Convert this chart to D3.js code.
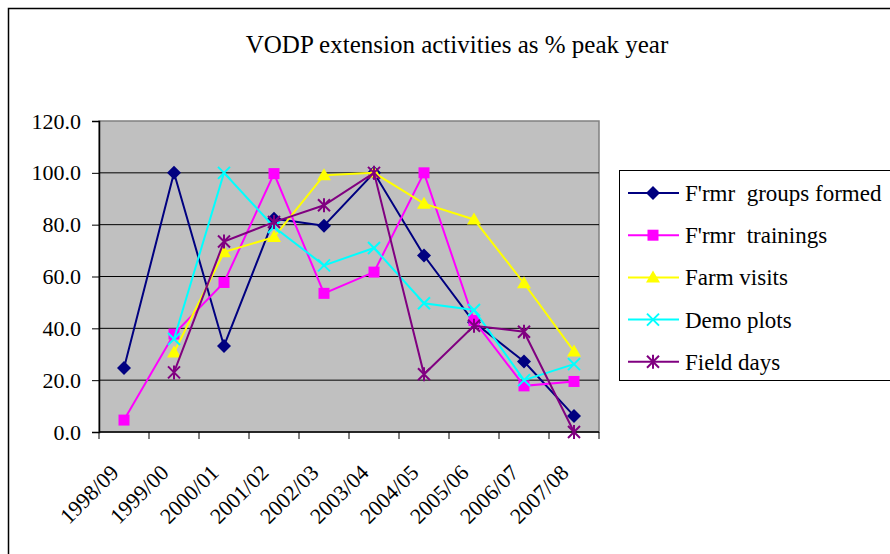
<!DOCTYPE html>
<html>
<head>
<meta charset="utf-8">
<script src="https://cdn.jsdelivr.net/npm/d3@7"></script>
<style>
  body { margin: 0; background: #fff; }
  svg text { font-family: "Liberation Serif", "Times New Roman", serif; fill: #000; }
</style>
</head>
<body>
<div id="chart"></div>
<script>
// data
var years = ["1998/09", "1999/00", "2000/01", "2001/02", "2002/03", "2003/04", "2004/05", "2005/06", "2006/07", "2007/08"];
var groupsFormed = [24.7, 100, 33.2, 82.3, 79.6, 100, 68.1, 42.3, 27.2, 6.2];
var trainings    = [4.6, 37.8, 57.7, 99.7, 53.5, 61.7, 100, 43.0, 17.8, 19.5];
var farmVisits   = [null, 30.7, 69.4, 75.2, 99.1, 100, 88.1, 82.0, 57.4, 31.1];
var demoPlots    = [null, 35.9, 100, 79.1, 64.3, 71.0, 49.7, 47.1, 20.0, 26.2];
var fieldDays    = [null, 23.0, 73.5, 81.0, 87.5, 100, 22.3, 41.0, 38.7, 0];
var yTicks = [0, 20, 40, 60, 80, 100, 120];
var seriesNames = ["F'rmr  groups formed", "F'rmr  trainings", "Farm visits", "Demo plots", "Field days"];

var series = [
  {name: seriesNames[0], values: groupsFormed, color: "#000080", marker: "diamond"},
  {name: seriesNames[1], values: trainings, color: "#FF00FF", marker: "square"},
  {name: seriesNames[2], values: farmVisits, color: "#FFFF00", marker: "triangle"},
  {name: seriesNames[3], values: demoPlots, color: "#00FFFF", marker: "x"},
  {name: seriesNames[4], values: fieldDays, color: "#800080", marker: "star"}
];

var svg = d3.select("#chart").append("svg")
    .attr("width", 890)
    .attr("height", 554);

// outer chart border
svg.append("rect")
    .attr("x", 8.5).attr("y", 8.5)
    .attr("width", 900).attr("height", 600)
    .attr("fill", "#fff")
    .attr("stroke", "#000").attr("stroke-width", 1.5);

svg.append("text")
    .attr("x", 457).attr("y", 53)
    .attr("text-anchor", "middle")
    .style("font-size", "25px")
    .text("VODP extension activities as % peak year");

var plotL = 99, plotR = 599, plotT = 121, plotB = 432;

var x = d3.scaleBand().domain(years).range([plotL, plotR]).padding(0);
var y = d3.scaleLinear().domain([0, 120]).range([plotB, plotT]);

// plot area
svg.append("rect")
    .attr("x", plotL).attr("y", plotT)
    .attr("width", plotR - plotL).attr("height", plotB - plotT)
    .attr("fill", "#C0C0C0")
    .attr("stroke", "#808080").attr("stroke-width", 1.5);

// gridlines
svg.selectAll(".grid")
    .data(yTicks.filter(d => d > 0 && d < 120))
    .enter().append("line")
    .attr("x1", plotL).attr("x2", plotR)
    .attr("y1", d => y(d)).attr("y2", d => y(d))
    .attr("stroke", "#000").attr("stroke-width", 1);

// y axis
var yAxis = svg.append("g")
    .attr("transform", "translate(" + plotL + ",0)")
    .call(d3.axisLeft(y).tickValues(yTicks).tickFormat(d3.format(".1f")).tickSize(7).tickPadding(11));
yAxis.select(".domain").attr("stroke", "#000").attr("stroke-width", 1.5);
yAxis.selectAll(".tick line").attr("stroke", "#000");
yAxis.selectAll("text").style("font-size", "22px").style("font-family", "Liberation Serif");

// x axis line and ticks at category boundaries
svg.append("line")
    .attr("x1", plotL).attr("x2", plotR)
    .attr("y1", plotB).attr("y2", plotB)
    .attr("stroke", "#000").attr("stroke-width", 1.5);
var bounds = years.map(d => x(d)).concat([plotR]);
svg.selectAll(".xtick")
    .data(bounds)
    .enter().append("line")
    .attr("x1", d => d).attr("x2", d => d)
    .attr("y1", plotB).attr("y2", plotB + 7)
    .attr("stroke", "#000");

svg.selectAll(".xlabel")
    .data(years)
    .enter().append("text")
    .attr("text-anchor", "end")
    .attr("transform", d => "translate(" + (x(d) + x.bandwidth() / 2 - 4) + "," + (plotB + 42) + ") rotate(-45)")
    .style("font-size", "22px")
    .text(d => d);

function drawMarker(g, type, color, cx, cy) {
  if (type === "diamond") {
    g.append("path").attr("d", "M0,-7L7,0L0,7L-7,0Z")
      .attr("transform", "translate(" + cx + "," + cy + ")")
      .attr("fill", color);
  } else if (type === "square") {
    g.append("rect").attr("x", cx - 5.5).attr("y", cy - 5.5).attr("width", 11).attr("height", 11)
      .attr("fill", color);
  } else if (type === "triangle") {
    g.append("path").attr("d", "M0,-7L7,5L-7,5Z")
      .attr("transform", "translate(" + cx + "," + cy + ")")
      .attr("fill", color);
  } else if (type === "x") {
    g.append("path").attr("d", "M-6,-6L6,6M-6,6L6,-6")
      .attr("transform", "translate(" + cx + "," + cy + ")")
      .attr("stroke", color).attr("stroke-width", 2).attr("fill", "none");
  } else if (type === "star") {
    g.append("path").attr("d", "M-6,-6L6,6M-6,6L6,-6M0,-7L0,7")
      .attr("transform", "translate(" + cx + "," + cy + ")")
      .attr("stroke", color).attr("stroke-width", 2).attr("fill", "none");
  }
}

var line = d3.line()
    .defined(d => d.v !== null)
    .x(d => x(d.year) + x.bandwidth() / 2)
    .y(d => y(d.v));

series.forEach(function(s) {
  var pts = years.map((yr, i) => ({year: yr, v: s.values[i]}));
  var g = svg.append("g");
  g.append("path")
    .datum(pts)
    .attr("d", line)
    .attr("fill", "none")
    .attr("stroke", s.color)
    .attr("stroke-width", 2);
  pts.filter(p => p.v !== null).forEach(function(p) {
    drawMarker(g, s.marker, s.color, x(p.year) + x.bandwidth() / 2, y(p.v));
  });
});

// legend
svg.append("rect")
    .attr("x", 619.5).attr("y", 170.5)
    .attr("width", 300).attr("height", 210)
    .attr("fill", "#fff")
    .attr("stroke", "#000").attr("stroke-width", 1);

var legend = svg.selectAll(".legend")
    .data(series)
    .enter().append("g")
    .attr("transform", (d, i) => "translate(0," + (193 + i * 42.2) + ")");
legend.append("line")
    .attr("x1", 628).attr("x2", 679)
    .attr("y1", 0).attr("y2", 0)
    .attr("stroke", d => d.color).attr("stroke-width", 2);
legend.each(function(d) {
  drawMarker(d3.select(this), d.marker, d.color, 653, 0);
});
legend.append("text")
    .attr("x", 685).attr("y", 0)
    .attr("dy", "0.35em")
    .style("font-size", "23px")
    .style("white-space", "pre")
    .text(d => d.name);
</script>
</body>
</html>
